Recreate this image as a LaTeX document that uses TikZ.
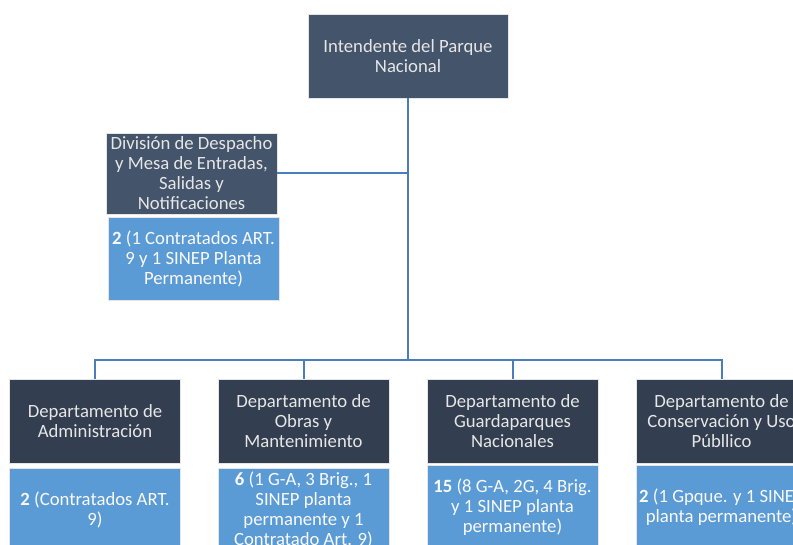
\documentclass[tikz,border=0pt]{standalone}
\usepackage{fontspec}
\setmainfont{Carlito}
\definecolor{topdark}{HTML}{44546A}
\definecolor{botdark}{HTML}{333F50}
\definecolor{bluebox}{HTML}{5B9BD5}
\definecolor{linecol}{HTML}{4A7EBB}
\definecolor{txtlight}{HTML}{E6E6E6}
\begin{document}
\begin{tikzpicture}[x=1pt,y=-1pt,
  box/.style={draw=white!80!gray, line width=0.8pt, minimum width=171pt, minimum height=84pt,
    inner sep=0pt, align=center, text=txtlight, font=\fontsize{18.7}{20}\selectfont},
  topbox/.style={box, fill=topdark, minimum width=200pt},
  divbox/.style={box, fill=topdark, minimum height=81pt},
  deptbox/.style={box, fill=botdark},
  infobox/.style={box, fill=bluebox, text=white!95!gray},
  conn/.style={draw=linecol, line width=2pt}]
\useasboundingbox (0,0) rectangle (793,545);
\clip (0,0) rectangle (793,545);
\fill[white] (0,0) rectangle (793,545);

\node[topbox] (top) at (408,56) {Intendente del Parque\\Nacional};
\node[divbox] (div) at (191.5,173.5) {División de Despacho\\y Mesa de Entradas,\\Salidas y\\Notificaciones};
\node[infobox, minimum height=83pt] (divinfo) at (193.5,258.5) {\textbf{2} (1 Contratados ART.\\9 y 1 SINEP Planta\\Permanente)};

\node[deptbox] (adm) at (95,421) {Departamento de\\Administración};
\node[deptbox] (obr) at (303.5,421) {Departamento de\\Obras y\\Mantenimiento};
\node[deptbox] (gua) at (512.5,421) {Departamento de\\Guardaparques\\Nacionales};
\node[deptbox] (con) at (721.5,421) {Departamento de\\Conservación y Uso\\Públlico};

\node[infobox] (admi) at (95,510) {\textbf{2} (Contratados ART.\\9)};
\node[infobox] (obri) at (303.5,510) {\textbf{6} (1 G-A, 3 Brig., 1\\SINEP planta\\permanente y 1\\Contratado Art. 9)};
\node[infobox] (guai) at (512.5,507) {\textbf{15} (8 G-A, 2G, 4 Brig.\\y 1 SINEP planta\\permanente)};
\node[infobox] (coni) at (721.5,507) {\textbf{2} (1 Gpque. y 1 SINEP\\planta permanente)};

\coordinate (j) at (408,360);
\draw[conn] (top.south) -- (j);
\draw[conn] (div.east) -- (div.east -| top.south);
\draw[conn] (adm.north) -- (adm.north |- j) -- (con.north |- j) -- (con.north);
\draw[conn] (obr.north) -- (obr.north |- j);
\draw[conn] (gua.north) -- (gua.north |- j);
\end{tikzpicture}
\end{document}
